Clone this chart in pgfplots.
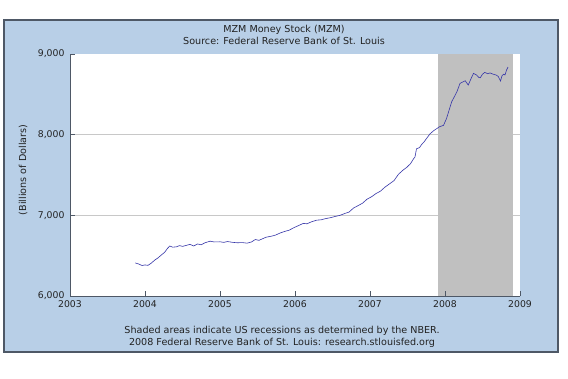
\documentclass[border=0pt]{standalone}
\usepackage{pgfplots}
\pgfplotsset{compat=1.18}
\usepackage{fontspec}
\setmainfont{DejaVu Sans}
\definecolor{panelblue}{HTML}{B8CFE7}
\definecolor{panelborder}{HTML}{4E5866}
\definecolor{shadegray}{HTML}{C0C0C0}
\definecolor{gridgray}{HTML}{C8C8C8}
\definecolor{lineblue}{HTML}{3535A8}
\definecolor{txt}{HTML}{222222}
\begin{document}
\begin{tikzpicture}[x=1pt,y=1pt]
\useasboundingbox (0,0) rectangle (568,378);
\fill[white] (0,0) rectangle (568,378);
\filldraw[fill=panelblue, draw=panelborder, line width=1.2pt] (4,26) rectangle (558,358);
\fill[white] (70,82) rectangle (520,324);
\begin{axis}[
  at={(70pt,82pt)}, anchor=south west,
  scale only axis, width=450pt, height=242pt,
  xmin=2003, xmax=2009, ymin=6000, ymax=9000,
  axis lines=left, axis line style={-, panelborder, line width=0.8pt},
  axis on top,
  xtick={2003,2004,2005,2006,2007,2008,2009},
  ytick={6000,7000,8000,9000},
  yticklabels={6{,}000,7{,}000,8{,}000,9{,}000},
  x tick label style={/pgf/number format/1000 sep={}},
  /pgf/number format/assume math mode=true,
  tick align=inside, major tick length=5pt,
  tick style={panelborder, line width=0.8pt},
  ticklabel style={font=\fontsize{9.3}{10}\selectfont, text=txt},
  xticklabel style={yshift=-1pt},
  yticklabel style={xshift=-2pt},
  clip=false,
]
\addplot[gridgray, line width=1pt] coordinates {(2003,7000) (2009,7000)};
\addplot[gridgray, line width=1pt] coordinates {(2003,8000) (2009,8000)};
\addplot[draw=none, fill=shadegray] coordinates {(2007.90,6000) (2007.90,9000) (2008.90,9000) (2008.90,6000)} -- cycle;
\addplot[lineblue, line width=0.6pt] coordinates {
(2003.87,6410) (2003.92,6395) (2003.96,6378) (2004.00,6385) (2004.04,6380)
(2004.08,6405) (2004.13,6445) (2004.17,6470) (2004.22,6510) (2004.26,6540)
(2004.30,6590) (2004.33,6620) (2004.37,6605) (2004.42,6610) (2004.46,6625)
(2004.50,6615) (2004.56,6630) (2004.60,6640) (2004.65,6620) (2004.70,6645)
(2004.75,6635) (2004.80,6660) (2004.87,6680) (2004.92,6670) (2005.00,6672)
(2005.05,6665) (2005.10,6675) (2005.17,6665) (2005.23,6660) (2005.30,6662)
(2005.36,6655) (2005.42,6670) (2005.47,6700) (2005.52,6690) (2005.58,6715)
(2005.62,6730) (2005.68,6740) (2005.74,6755) (2005.80,6780) (2005.86,6800)
(2005.92,6815) (2005.98,6845) (2006.04,6870) (2006.11,6900) (2006.16,6895)
(2006.22,6920) (2006.29,6940) (2006.35,6945) (2006.41,6960) (2006.47,6970)
(2006.53,6985) (2006.60,7000) (2006.67,7025) (2006.72,7040) (2006.78,7090)
(2006.84,7120) (2006.90,7150) (2006.96,7200) (2007.02,7230) (2007.08,7270)
(2007.14,7300) (2007.20,7350) (2007.26,7390) (2007.32,7430) (2007.38,7510)
(2007.44,7560) (2007.49,7595) (2007.54,7640) (2007.58,7700) (2007.60,7725)
(2007.62,7825) (2007.66,7840) (2007.69,7880) (2007.72,7910) (2007.76,7960)
(2007.80,8010) (2007.85,8050) (2007.89,8075) (2007.93,8100) (2007.98,8115)
(2008.02,8200) (2008.06,8320) (2008.09,8410) (2008.13,8480) (2008.16,8535)
(2008.20,8635) (2008.24,8655) (2008.27,8668) (2008.31,8615) (2008.35,8700)
(2008.38,8760) (2008.42,8740) (2008.45,8710) (2008.47,8705) (2008.50,8750)
(2008.53,8772) (2008.57,8755) (2008.60,8765) (2008.64,8750) (2008.68,8740)
(2008.71,8722) (2008.74,8665) (2008.76,8730) (2008.78,8750) (2008.80,8740)
(2008.82,8800) (2008.84,8838)
};
\end{axis}
\node[font=\fontsize{9.6}{12.5}\selectfont, text=txt, align=center] at (284,343) {MZM Money Stock (MZM)\\Source: Federal Reserve Bank of St. Louis};
\node[font=\fontsize{9.6}{12}\selectfont, text=txt, rotate=90] at (23,208) {(Billions of Dollars)};
\node[font=\fontsize{9.6}{12.5}\selectfont, text=txt, align=center] at (282,41) {Shaded areas indicate US recessions as determined by the NBER.\\2008 Federal Reserve Bank of St. Louis: research.stlouisfed.org};
\end{tikzpicture}
\end{document}
